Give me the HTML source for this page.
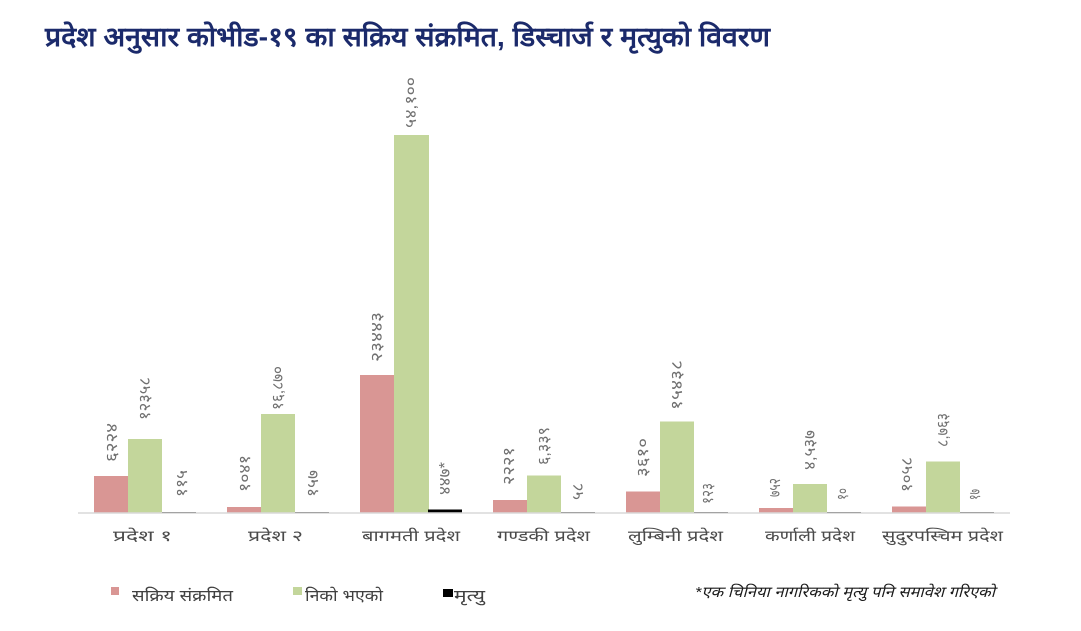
<!DOCTYPE html>
<html>
<head>
<meta charset="utf-8">
<style>
  html,body{margin:0;padding:0;background:#fff;}
  svg{display:block;}
  text{font-family:"Liberation Sans","DejaVu Sans",sans-serif;}
</style>
</head>
<body>
<svg width="1081" height="631" viewBox="0 0 1081 631" xmlns="http://www.w3.org/2000/svg">
  <rect width="1081" height="631" fill="#fff"/>
  <!-- Title -->
  <text x="45" y="46" font-size="27" font-weight="bold" fill="#1b2a6b" textLength="725" lengthAdjust="spacingAndGlyphs">प्रदेश अनुसार कोभीड-१९ का सक्रिय संक्रमित, डिस्चार्ज र मृत्युको विवरण</text>

  <!-- Bars: red -->
  <g fill="#d99694">
    <rect x="94" y="476" width="34" height="36.5"/>
    <rect x="227" y="507" width="34" height="5.5"/>
    <rect x="360" y="375" width="34" height="137.5"/>
    <rect x="493" y="500" width="34" height="12.5"/>
    <rect x="626" y="491.5" width="34" height="21"/>
    <rect x="759" y="508" width="34" height="4.5"/>
    <rect x="892" y="506.5" width="34" height="6"/>
  </g>
  <!-- Bars: green -->
  <g fill="#c3d69b">
    <rect x="128" y="439" width="34" height="73.5"/>
    <rect x="261" y="414" width="34" height="98.5"/>
    <rect x="394" y="135" width="35" height="377.5"/>
    <rect x="527" y="475.5" width="34" height="37"/>
    <rect x="660" y="421.5" width="34" height="91"/>
    <rect x="793" y="484" width="34" height="28.5"/>
    <rect x="926" y="461.5" width="34" height="51"/>
  </g>
  <!-- Bars: death -->
  <g fill="#000">
    <rect x="162" y="512" width="34" height="0.5"/>
    <rect x="295" y="512" width="34" height="0.5"/>
    <rect x="428" y="509.5" width="34" height="3"/>
    <rect x="561" y="512" width="34" height="0.5"/>
    <rect x="694" y="512" width="34" height="0.5"/>
    <rect x="827" y="512" width="34" height="0.5"/>
    <rect x="960" y="512" width="34" height="0.5"/>
  </g>
  <!-- axis -->
  <line x1="78" y1="513" x2="1010" y2="513" stroke="#d9d9d9" stroke-width="1.5"/>

  <!-- Value labels (rotated) -->
  <g font-size="16" fill="#707070">
    <text transform="translate(117,462) rotate(-90)" textLength="39" lengthAdjust="spacingAndGlyphs">६२२४</text>
    <text transform="translate(150,420) rotate(-90)" textLength="43" lengthAdjust="spacingAndGlyphs">१२३५८</text>
    <text transform="translate(187,497) rotate(-90)" textLength="27" lengthAdjust="spacingAndGlyphs">११५</text>

    <text transform="translate(250,492) rotate(-90)" textLength="37" lengthAdjust="spacingAndGlyphs">१०४१</text>
    <text transform="translate(283,410) rotate(-90)" textLength="44" lengthAdjust="spacingAndGlyphs">१६,८७०</text>
    <text transform="translate(318,497) rotate(-90)" textLength="27" lengthAdjust="spacingAndGlyphs">१५७</text>

    <text transform="translate(382,362) rotate(-90)" textLength="50" lengthAdjust="spacingAndGlyphs">२३४४३</text>
    <text transform="translate(416,128) rotate(-90)" textLength="51" lengthAdjust="spacingAndGlyphs">५४,१००</text>
    <text transform="translate(450,495) rotate(-90)" textLength="33" lengthAdjust="spacingAndGlyphs">४४७*</text>

    <text transform="translate(514,485) rotate(-90)" textLength="38" lengthAdjust="spacingAndGlyphs">२२२१</text>
    <text transform="translate(549,465) rotate(-90)" textLength="38" lengthAdjust="spacingAndGlyphs">६,३३९</text>
    <text transform="translate(583,500) rotate(-90)" textLength="17" lengthAdjust="spacingAndGlyphs">५८</text>

    <text transform="translate(648,477) rotate(-90)" textLength="39" lengthAdjust="spacingAndGlyphs">३६१०</text>
    <text transform="translate(682,410) rotate(-90)" textLength="50" lengthAdjust="spacingAndGlyphs">१५४३८</text>
    <text transform="translate(713,504) rotate(-90)" textLength="21" lengthAdjust="spacingAndGlyphs">१२३</text>

    <text transform="translate(780,497) rotate(-90)" textLength="19" lengthAdjust="spacingAndGlyphs">७५२</text>
    <text transform="translate(815,470) rotate(-90)" textLength="40" lengthAdjust="spacingAndGlyphs">४,५३७</text>
    <text transform="translate(848,500) rotate(-90)" textLength="12" lengthAdjust="spacingAndGlyphs">१०</text>

    <text transform="translate(912,492) rotate(-90)" textLength="35" lengthAdjust="spacingAndGlyphs">१०५८</text>
    <text transform="translate(948,447) rotate(-90)" textLength="34" lengthAdjust="spacingAndGlyphs">८,७६३</text>
    <text transform="translate(980,500) rotate(-90)" textLength="11" lengthAdjust="spacingAndGlyphs">१७</text>
  </g>

  <!-- Category labels -->
  <g font-size="15" fill="#4a4a4a">
    <text x="113" y="541" textLength="59" lengthAdjust="spacingAndGlyphs">प्रदेश १</text>
    <text x="248" y="541" textLength="55" lengthAdjust="spacingAndGlyphs">प्रदेश २</text>
    <text x="362" y="541" textLength="98" lengthAdjust="spacingAndGlyphs">बागमती प्रदेश</text>
    <text x="497" y="541" textLength="93" lengthAdjust="spacingAndGlyphs">गण्डकी प्रदेश</text>
    <text x="628" y="541" textLength="95" lengthAdjust="spacingAndGlyphs">लुम्बिनी प्रदेश</text>
    <text x="765" y="541" textLength="90" lengthAdjust="spacingAndGlyphs">कर्णाली प्रदेश</text>
    <text x="882" y="541" textLength="121" lengthAdjust="spacingAndGlyphs">सुदुरपस्चिम प्रदेश</text>
  </g>

  <!-- Legend -->
  <rect x="111" y="587" width="8" height="8" fill="#d99694"/>
  <text x="132" y="601" font-size="16" fill="#404040" textLength="101" lengthAdjust="spacingAndGlyphs">सक्रिय संक्रमित</text>
  <rect x="293" y="587" width="9" height="8" fill="#c3d69b"/>
  <text x="305" y="601" font-size="16" fill="#404040" textLength="78" lengthAdjust="spacingAndGlyphs">निको भएको</text>
  <rect x="443" y="589" width="10" height="8" fill="#000"/>
  <text x="454" y="601" font-size="16" fill="#404040" textLength="31" lengthAdjust="spacingAndGlyphs">मृत्यु</text>

  <!-- Footnote -->
  <text x="695" y="597" font-size="15" font-style="italic" fill="#1a1a1a" textLength="300" lengthAdjust="spacingAndGlyphs">*एक चिनिया नागरिकको मृत्यु पनि समावेश गरिएको</text>
</svg>
</body>
</html>
